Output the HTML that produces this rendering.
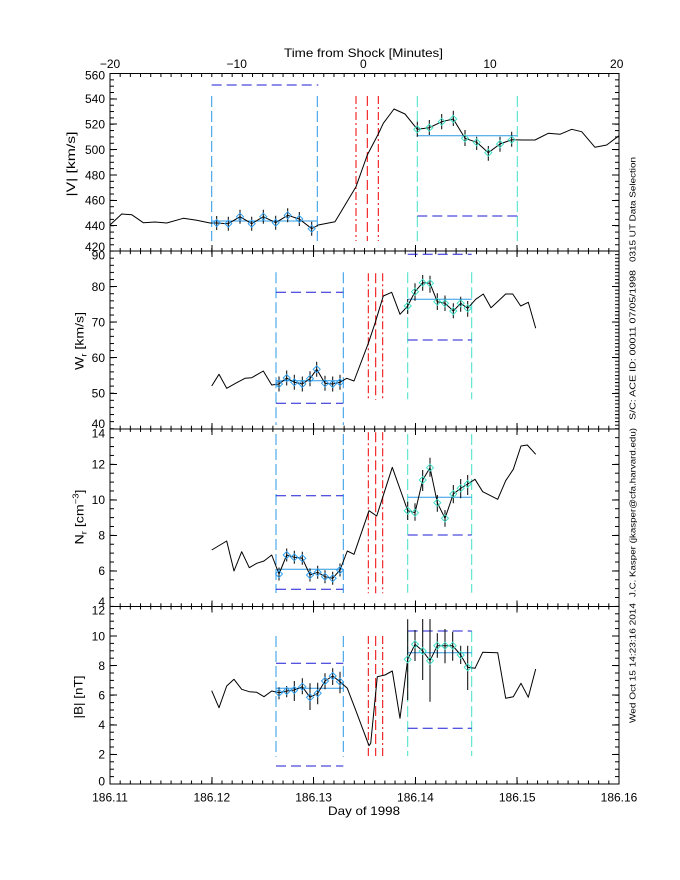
<!DOCTYPE html>
<html><head><meta charset="utf-8"><style>html,body{margin:0;padding:0;background:#fff}svg{display:block}</style></head>
<body>
<svg width="680" height="880" viewBox="0 0 680 880" xmlns="http://www.w3.org/2000/svg" font-family="'Liberation Sans', sans-serif">
<defs>
<pattern id="xt" x="109.5" y="0" width="10.18" height="880" patternUnits="userSpaceOnUse"><rect width="1" height="880" fill="#000"/></pattern>
<pattern id="y1" x="0" y="73" width="680" height="6.3429" patternUnits="userSpaceOnUse"><rect width="680" height="1" fill="#000"/></pattern>
<pattern id="y2l" x="0" y="250.6" width="680" height="7.106" patternUnits="userSpaceOnUse"><rect width="680" height="1" fill="#000"/></pattern>
<pattern id="y2r" x="0" y="250.6" width="680" height="3.553" patternUnits="userSpaceOnUse"><rect width="680" height="1" fill="#000"/></pattern>
<pattern id="y3" x="0" y="428.3" width="680" height="8.88" patternUnits="userSpaceOnUse"><rect width="680" height="1" fill="#000"/></pattern>
<pattern id="y4" x="0" y="605.9" width="680" height="7.4" patternUnits="userSpaceOnUse"><rect width="680" height="1" fill="#000"/></pattern>
<path id="dm" d="M0,-3.5L3.5,0L0,3.5L-3.5,0Z" fill="none" stroke-width="1"/>
</defs>
<rect width="680" height="880" fill="#fff"/>

<!-- frame -->
<g stroke="#000" stroke-width="1" fill="none" shape-rendering="crispEdges">
<rect x="110" y="73.5" width="509" height="710.5"/>
<path d="M110 251.1H619M110 428.8H619M110 606.4H619"/>
<!-- y majors left & right -->
<path d="M110 73.5h7M110 98.9h7M110 124.2h7M110 149.6h7M110 175h7M110 200.4h7M110 225.7h7M110 251.1h7
M110 286.6h7M110 322.2h7M110 357.7h7M110 393.3h7M110 428.8h7
M110 464.3h7M110 499.8h7M110 535.4h7M110 570.9h7M110 606.4h7
M110 636h7M110 665.6h7M110 695.2h7M110 724.8h7M110 754.4h7M110 784h7
M619 73.5h-7M619 98.9h-7M619 124.2h-7M619 149.6h-7M619 175h-7M619 200.4h-7M619 225.7h-7M619 251.1h-7
M619 286.6h-7M619 322.2h-7M619 357.7h-7M619 393.3h-7M619 428.8h-7
M619 464.3h-7M619 499.8h-7M619 535.4h-7M619 570.9h-7M619 606.4h-7
M619 636h-7M619 665.6h-7M619 695.2h-7M619 724.8h-7M619 754.4h-7M619 784h-7"/>
<!-- x majors -->
<path d="M211.8 245.1V257.1M313.6 245.1V257.1M415.4 245.1V257.1M517.2 245.1V257.1
M211.8 422.8V434.8M313.6 422.8V434.8M415.4 422.8V434.8M517.2 422.8V434.8
M211.8 600.4V612.4M313.6 600.4V612.4M415.4 600.4V612.4M517.2 600.4V612.4
M211.8 777V784M313.6 777V784M415.4 777V784M517.2 777V784"/>
</g>
<!-- x minor ticks -->
<rect x="109" y="73.5" width="511" height="3.5" fill="url(#xt)"/>
<rect x="109" y="248" width="511" height="6.2" fill="url(#xt)"/>
<rect x="109" y="425.7" width="511" height="6.2" fill="url(#xt)"/>
<rect x="109" y="603.3" width="511" height="6.2" fill="url(#xt)"/>
<rect x="109" y="780.5" width="511" height="3.5" fill="url(#xt)"/>
<!-- y minor ticks -->
<rect x="110" y="73" width="4" height="178.6" fill="url(#y1)"/>
<rect x="615" y="73" width="4" height="178.6" fill="url(#y1)"/>
<rect x="110" y="250.6" width="4" height="178.5" fill="url(#y2l)"/>
<rect x="615" y="250.6" width="4" height="178.5" fill="url(#y2r)"/>
<rect x="110" y="428.3" width="4" height="178.5" fill="url(#y3)"/>
<rect x="615" y="428.3" width="4" height="178.5" fill="url(#y3)"/>
<rect x="110" y="605.9" width="4" height="178.5" fill="url(#y4)"/>
<rect x="615" y="605.9" width="4" height="178.5" fill="url(#y4)"/>

<!-- top axis labels -->
<g font-size="12" fill="#000" text-anchor="middle">
<text x="110" y="68">−20</text>
<text x="236.7" y="68">−10</text>
<text x="363.3" y="68">0</text>
<text x="490" y="68">10</text>
<text x="616.7" y="68">20</text>
<text x="110" y="801.5">186.11</text>
<text x="211.8" y="801.5">186.12</text>
<text x="313.6" y="801.5">186.13</text>
<text x="415.4" y="801.5">186.14</text>
<text x="517.2" y="801.5">186.15</text>
<text x="619" y="801.5">186.16</text>
</g>
<text x="284" y="57" font-size="12" textLength="159" lengthAdjust="spacingAndGlyphs">Time from Shock [Minutes]</text>
<text x="328" y="815" font-size="12" textLength="72" lengthAdjust="spacingAndGlyphs">Day of 1998</text>

<!-- y tick labels -->
<g font-size="12" fill="#000" text-anchor="end">
<text x="105" y="79.3">560</text><text x="105" y="103.2">540</text><text x="105" y="128.5">520</text><text x="105" y="153.9">500</text><text x="105" y="179.3">480</text><text x="105" y="204.7">460</text><text x="105" y="230">440</text><text x="105" y="251">420</text>
<text x="105" y="259.3">90</text><text x="105" y="290.9">80</text><text x="105" y="326.5">70</text><text x="105" y="362">60</text><text x="105" y="397.6">50</text><text x="105" y="427.8">40</text>
<text x="105" y="437.3">14</text><text x="105" y="468.6">12</text><text x="105" y="504.1">10</text><text x="105" y="539.7">8</text><text x="105" y="575.2">6</text><text x="105" y="606.1">4</text>
<text x="105" y="614.3">12</text><text x="105" y="640.3">10</text><text x="105" y="669.9">8</text><text x="105" y="699.5">6</text><text x="105" y="729.1">4</text><text x="105" y="758.7">2</text><text x="105" y="785.3">0</text>
</g>

<!-- y axis titles -->
<g font-size="12" fill="#000" text-anchor="middle">
<text transform="translate(75,164) rotate(-90)" textLength="65" lengthAdjust="spacingAndGlyphs">|V| [km/s]</text>
<text transform="translate(83.5,341) rotate(-90)" textLength="58" lengthAdjust="spacingAndGlyphs">W<tspan font-size="8" dy="3">r</tspan><tspan dy="-3"> [km/s]</tspan></text>
<text transform="translate(83.5,517) rotate(-90)" textLength="55" lengthAdjust="spacingAndGlyphs">N<tspan font-size="8" dy="3">r</tspan><tspan dy="-3"> [cm</tspan><tspan font-size="8" dy="-5">−3</tspan><tspan dy="5">]</tspan></text>
<text transform="translate(82.5,697) rotate(-90)" textLength="43" lengthAdjust="spacingAndGlyphs">|B| [nT]</text>
</g>

<!-- right side vertical text -->
<g font-size="8.5" fill="#000">
<text transform="translate(635.5,723) rotate(-90)" textLength="120" lengthAdjust="spacingAndGlyphs">Wed Oct 15 14:23:16 2014</text>
<text transform="translate(635.5,597) rotate(-90)" textLength="169" lengthAdjust="spacingAndGlyphs">J.C. Kasper (jkasper@cfa.harvard.edu)</text>
<text transform="translate(635.5,420) rotate(-90)" textLength="150" lengthAdjust="spacingAndGlyphs">S/C: ACE ID: 00011 07/05/1998</text>
<text transform="translate(635.5,262) rotate(-90)" textLength="105" lengthAdjust="spacingAndGlyphs">0315 UT Data Selection</text>
</g>

<!-- vertical dashed selection lines -->
<g fill="none" stroke-width="1">
<path stroke="#2a98e6" stroke-dasharray="11 4" d="M211.7 96V241M317.3 96V241M276 272.3V425M343.3 272.3V425M276 434V593M343.3 434V593M276 636V756.7M343.3 636V756.7"/>
<path stroke="#40e0c8" stroke-dasharray="11 4" d="M417.3 96V241M517.3 96V241M407.7 272.3V399.3M471.7 272.3V399.3M407.7 434V592.7M471.7 434V592.7M407.7 631V756M471.7 631V756"/>
<!-- red lines -->
<path stroke="#ee0000" stroke-dasharray="8 3 2 3" d="M356 96V241M378.3 96V241M368.3 273.3V400M382.7 273.3V400M368.3 432.3V593.3M382.7 432.3V593.3M368.3 636V756M382.7 636V756"/>
<path stroke="#ee0000" stroke-dasharray="10 4" d="M367.3 96V241M375.7 273.3V400M375.7 432.3V593.3M375.7 636V756"/>
<!-- dark blue dashed horizontals -->
<path stroke="#1c1cd6" stroke-dasharray="10 5" d="M211.7 85H318.3M417.3 216H517.3M276 292.3H343.3M276 403.3H343.3M407.7 254.3H471.7M407.7 340H471.7M276 495.7H343.3M276 589.3H343.3M407.7 535H471.7M276 663.3H343.3M276 766H343.3M407.7 631H471.7M407.7 728.3H471.7"/>
<!-- fit lines -->
<path stroke="#2a98e6" d="M211.7 221H317.3M417.3 135.7H517.3M276 380.7H343.3M407.7 299.3H471.7M276 569.3H343.3M407.7 497.3H471.7M276 688.3H343.3M407.7 652.7H471.7"/>
</g>

<!-- data lines -->
<g fill="none" stroke="#000" stroke-width="1" stroke-linejoin="round">
<polyline points="110,225 121.7,214 131.7,214.7 143.3,222.7 155,222 166.7,223 183.3,218.3 196.7,220.3 210,223 216.7,223 228.3,223.7 240,216.7 251.7,223.7 263.3,216.7 275.7,222.7 287.7,215.3 299.3,219 311.7,228.7 318.3,225 335,221.7 356,186.7 367.3,155 378.3,134 383.3,123.3 394,109 405,114 417.3,129.3 429.3,127.7 441.7,121.7 453.3,119 465,138.3 476.7,142.3 488.3,152.7 500,144 511.7,139.7 523.3,140 535,140 548.3,133.3 560,134.3 571.7,129.3 581.7,131.7 595,147.3 606.7,145 619,135.7"/>
<polyline points="211.7,386 219,374.3 226.7,388.3 236.7,382.7 245,378.3 251.7,377.7 263.3,371 271.7,385 279,384 286.7,378 294.3,382.3 302.3,384 310,378.7 316.7,369.3 325,383.3 332.7,384 340,382.3 346.7,378.3 354,381 368.3,343.3 375,323.3 383.3,296 391.7,292.3 400,314.3 407.7,306 415,291.7 422.7,282.7 430,283.3 437.3,301.7 445,303.3 453.3,311 460.7,303.3 467.7,308.3 475.7,299.3 483.3,294 491,307.7 498.3,301 505.7,294 512.7,294 520.7,306 528.3,302.3 535.7,328.3"/>
<polyline points="211.7,550 226.7,541 234,571 241.7,551.7 249.3,567.7 256.7,563.3 264,561 271.7,555 279,574 286.7,555 294.3,557.3 302.3,558.3 310,575 317.7,572.3 325,576.7 332.7,578.3 340,570 347.3,551 354,554.3 369,510.7 376.7,516 392.3,467.3 407.7,510.7 415,512.7 422.7,480 430,467.7 437.3,502.7 445,518.3 453.3,494 460.7,488.3 467.7,484 475,479.3 482.7,491.7 497.7,499.3 505.7,480.7 513.3,469.3 521,446 527.3,445 535.7,454.3"/>
<polyline points="211.7,690.7 219,707.7 226.7,686 234,679.3 241.7,689.3 249.3,691.7 256.7,692.3 264,696.7 271.7,691 279,692.7 286.7,691 294.3,690 302.3,686.7 310,697.3 317.7,693.3 325,681 332.7,676 340,681.7 347.3,688.3 355,708.3 369,745.7 370.7,743.3 377.3,676.7 385,675 392.3,671 400,718.3 407.7,659.3 415,644.3 422.7,651 430,660.7 437.3,645.7 445,645.7 452.7,645.7 460.7,655 467.7,667.3 475,668.3 482.7,652.3 497.7,652.7 505.7,698.3 513.3,696.7 521,683.3 528.3,697.3 535.7,669"/>
<!-- error bars -->
<path d="M216.7 216V230M228.3 216.7V230.7M240 209.7V223.7M251.7 216.7V230.7M263.3 209.7V223.7M275.7 215.7V229.7M287.7 208.3V222.3M299.3 212V226M311.7 221.7V235.7
M417.3 121.7V136.7M429.3 120V135M441.7 114V129.3M453.3 110.7V126M465 130V146M476.7 136.7V150M488.3 146V160.7M500 136.7V151.7M511.7 131.7V146.7
M279 376.5V391.5M286.7 370.5V385.5M294.3 374.8V389.8M302.3 376.5V391.5M310 371.2V386.2M316.7 361.8V376.8M325 375.8V390.8M332.7 376.5V391.5M340 374.8V389.8
M407.7 299V314M415 283.3V300.7M422.7 275V290.7M430 275.7V292.7M437.3 293.3V310M445 295.5V311M453.3 303.3V318.3M460.7 296.7V311.7M467.7 301V316.7
M279 567.5V580.5M286.7 548.5V561.5M294.3 550.8V563.8M302.3 551.8V564.8M310 568.5V581.5M317.7 565.8V578.8M325 570.2V583.2M332.7 571.8V584.8M340 563.5V576.5
M407.7 501.7V520M415 503.3V520.7M422.7 470V491M430 457.7V476.7M437.3 495V511.7M445 510V526.7M453.3 485V503.3M460.7 479V498.3M467.7 475V495
M279 687.3V699.3M286.7 686V697.3M294.3 681V701M302.3 678.3V694.3M310 683.3V710M317.7 682.7V704.3M325 673.3V689.3M332.7 668.3V685M340 671.7V693.3
M407.7 619.3V700M415 630V661M422.7 619V680M430 619V701.7M437.3 633.3V657.7M445 629V663.3M452.7 631.7V660.7M460.7 645.7V664M467.7 645.7V690"/>
</g>

<!-- diamonds upstream -->
<g stroke="#30a0f0">
<use href="#dm" x="216.7" y="223"/><use href="#dm" x="228.3" y="223.7"/><use href="#dm" x="240" y="216.7"/><use href="#dm" x="251.7" y="223.7"/><use href="#dm" x="263.3" y="216.7"/><use href="#dm" x="275.7" y="222.7"/><use href="#dm" x="287.7" y="215.3"/><use href="#dm" x="299.3" y="219"/><use href="#dm" x="311.7" y="228.7"/>
<use href="#dm" x="279" y="384"/><use href="#dm" x="286.7" y="378"/><use href="#dm" x="294.3" y="382.3"/><use href="#dm" x="302.3" y="384"/><use href="#dm" x="310" y="378.7"/><use href="#dm" x="316.7" y="369.3"/><use href="#dm" x="325" y="383.3"/><use href="#dm" x="332.7" y="384"/><use href="#dm" x="340" y="382.3"/>
<use href="#dm" x="279" y="574"/><use href="#dm" x="286.7" y="555"/><use href="#dm" x="294.3" y="557.3"/><use href="#dm" x="302.3" y="558.3"/><use href="#dm" x="310" y="575"/><use href="#dm" x="317.7" y="572.3"/><use href="#dm" x="325" y="576.7"/><use href="#dm" x="332.7" y="578.3"/><use href="#dm" x="340" y="570"/>
<use href="#dm" x="279" y="692.7"/><use href="#dm" x="286.7" y="691"/><use href="#dm" x="294.3" y="690"/><use href="#dm" x="302.3" y="686.7"/><use href="#dm" x="310" y="697.3"/><use href="#dm" x="317.7" y="693.3"/><use href="#dm" x="325" y="681"/><use href="#dm" x="332.7" y="676"/><use href="#dm" x="340" y="681.7"/>
</g>
<!-- diamonds downstream -->
<g stroke="#40e0c8">
<use href="#dm" x="417.3" y="129.3"/><use href="#dm" x="429.3" y="127.7"/><use href="#dm" x="441.7" y="121.7"/><use href="#dm" x="453.3" y="119"/><use href="#dm" x="465" y="138.3"/><use href="#dm" x="476.7" y="142.3"/><use href="#dm" x="488.3" y="152.7"/><use href="#dm" x="500" y="144"/><use href="#dm" x="511.7" y="139.7"/>
<use href="#dm" x="407.7" y="306"/><use href="#dm" x="415" y="291.7"/><use href="#dm" x="422.7" y="282.7"/><use href="#dm" x="430" y="283.3"/><use href="#dm" x="437.3" y="301.7"/><use href="#dm" x="445" y="303.3"/><use href="#dm" x="453.3" y="311"/><use href="#dm" x="460.7" y="303.3"/><use href="#dm" x="467.7" y="308.3"/>
<use href="#dm" x="407.7" y="510.7"/><use href="#dm" x="415" y="512.7"/><use href="#dm" x="422.7" y="480"/><use href="#dm" x="430" y="467.7"/><use href="#dm" x="437.3" y="502.7"/><use href="#dm" x="445" y="518.3"/><use href="#dm" x="453.3" y="494"/><use href="#dm" x="460.7" y="488.3"/><use href="#dm" x="467.7" y="484"/>
<use href="#dm" x="407.7" y="659.3"/><use href="#dm" x="415" y="644.3"/><use href="#dm" x="422.7" y="651"/><use href="#dm" x="430" y="660.7"/><use href="#dm" x="437.3" y="645.7"/><use href="#dm" x="445" y="645.7"/><use href="#dm" x="452.7" y="645.7"/><use href="#dm" x="460.7" y="655"/><use href="#dm" x="467.7" y="667.3"/>
</g>
</svg>
</body></html>
